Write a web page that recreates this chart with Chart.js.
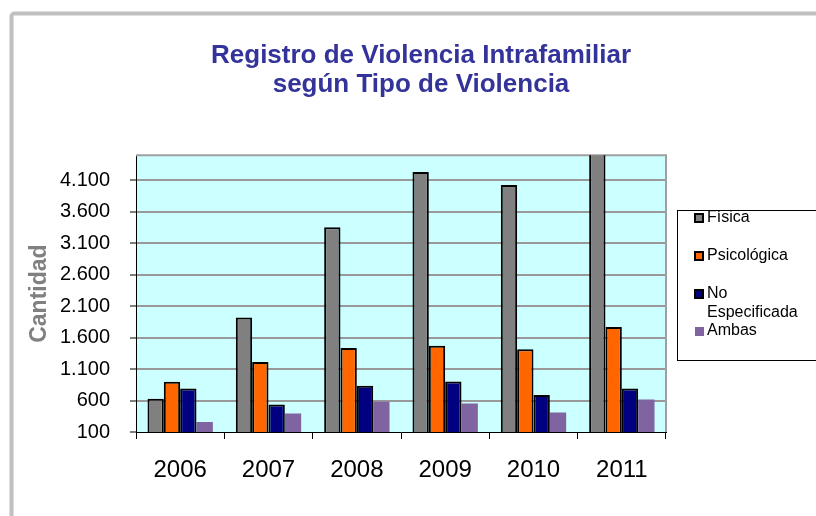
<!DOCTYPE html>
<html>
<head>
<meta charset="utf-8">
<script src="https://cdn.jsdelivr.net/npm/chart.js@4.4.1/dist/chart.umd.min.js"></script>
<style>
  html, body { margin: 0; padding: 0; background: #fff; }
  #wrap { width: 816px; height: 516px; }
</style>
</head>
<body>
<div id="wrap"><canvas id="myChart" width="816" height="516"></canvas></div>
<script>
// DATA
const years= ['2006', '2007', '2008', '2009', '2010', '2011'];
const fisica= [627, 1919, 3356, 4234, 4026, 4900];
const psicologica= [898, 1212, 1436, 1473, 1415, 1771];
const noEspecificada= [792, 537, 834, 904, 690, 792];
const ambas= [260, 394, 579, 553, 410, 617];
const yTickValues= [100, 600, 1100, 1600, 2100, 2600, 3100, 3600, 4100];
const titleLines= ['Registro de Violencia Intrafamiliar', 'según Tipo de Violencia'];

// number as 4.100
const formatThousands= (v) => String(v).replace(/\B(?=(\d{3})+(?!\d))/g, '.');

Chart.defaults.font.family= "'Liberation Sans', Arial, sans-serif";
Chart.defaults.color= '#000';

// frame, plot background and plot border
const backgroundPlugin= {
    id: 'backgroundPlugin',
    beforeDraw(chart){
        const {ctx, chartArea: a}= chart;
        ctx.save();
        ctx.fillStyle= '#fff';
        ctx.fillRect(0, 0, chart.width, chart.height);
        // outer grey frame (runs off the right and bottom)
        ctx.strokeStyle= '#c0c0c0';
        ctx.lineWidth= 4;
        ctx.beginPath();
        ctx.roundRect(11.5, 13.5, 900, 600, 3);
        ctx.stroke();
        // plot area
        ctx.fillStyle= '#ccffff';
        ctx.fillRect(a.left, a.top, a.right - a.left, a.bottom - a.top);
        ctx.restore();
    },
    beforeDatasetsDraw(chart){
        const {ctx, chartArea: a}= chart;
        ctx.save();
        ctx.strokeStyle= '#a0a0a0';
        ctx.lineWidth= 2;
        ctx.beginPath();
        ctx.moveTo(a.left, a.top);
        ctx.lineTo(a.right, a.top);
        ctx.lineTo(a.right, a.bottom);
        ctx.stroke();
        ctx.restore();
    }
};

// legend box on the right, built from the datasets
const boxLegendPlugin= {
    id: 'boxLegendPlugin',
    afterDraw(chart){
        const ctx= chart.ctx;
        const rowY= [218, 256, 294, 331];
        ctx.save();
        ctx.fillStyle= '#fff';
        ctx.fillRect(677, 210, 200, 150);
        ctx.strokeStyle= '#000';
        ctx.lineWidth= 1;
        ctx.strokeRect(677.5, 210.5, 200, 150);
        ctx.font= "16px 'Liberation Sans', Arial, sans-serif";
        ctx.textBaseline= 'middle';
        chart.data.datasets.forEach((ds, i) => {
            const cy= rowY[i];
            if(ds.borderWidth > 0){
                ctx.fillStyle= '#000';
                ctx.fillRect(694, cy - 5, 10, 10);
                ctx.fillStyle= ds.backgroundColor;
                ctx.fillRect(696, cy - 3, 6, 6);
            } else {
                ctx.fillStyle= ds.backgroundColor;
                ctx.fillRect(695, cy - 4, 9, 9);
            }
            // wrap long labels word by word
            const words= ds.label.split(' ');
            const lines= [];
            let line= '';
            words.forEach(w => {
                const test= line ? line + ' ' + w : w;
                if(line && ctx.measureText(test).width > 105){
                    lines.push(line);
                    line= w;
                } else line= test;
            });
            lines.push(line);
            ctx.fillStyle= '#000';
            lines.forEach((l, k) => ctx.fillText(l, 707, cy + k * 19));
        });
        ctx.restore();
    }
};

const canvasElement= document.getElementById('myChart');
new Chart(canvasElement, {
    type: 'bar',
    data: {
        labels: years,
        datasets: [
            { label: 'Física', data: fisica, backgroundColor: '#808080', borderColor: '#000', borderWidth: 2 },
            { label: 'Psicológica', data: psicologica, backgroundColor: '#ff6600', borderColor: '#000', borderWidth: 2 },
            { label: 'No Especificada', data: noEspecificada, backgroundColor: '#000080', borderColor: '#000', borderWidth: 2 },
            { label: 'Ambas', data: ambas, backgroundColor: '#8064a2', borderWidth: 0 },
        ],
    },
    options: {
        responsive: false,
        animation: false,
        layout: { padding: { left: 26, top: 20, right: 0, bottom: 0 } },
        datasets: { bar: { categoryPercentage: 0.74, barPercentage: 1 } },
        scales: {
            x: {
                offset: true,
                grid: { offset: true, drawOnChartArea: false, tickLength: 7, tickColor: '#000', tickWidth: 1 },
                border: { color: '#000', width: 1 },
                ticks: { font: { size: 24 }, color: '#000', padding: 17, maxRotation: 0 },
                afterFit(scale){ scale.height= 84; },
            },
            y: {
                min: 100,
                max: 4500,
                afterBuildTicks(scale){ scale.ticks= yTickValues.map(v => ({ value: v })); },
                grid: {
                    color: (c) => (c.tick && c.tick.value === 100) ? 'rgba(0,0,0,0)' : '#999999',
                    lineWidth: 2,
                    tickColor: '#000',
                    tickWidth: 1,
                    tickLength: 6,
                },
                border: { color: '#000', width: 1 },
                ticks: { font: { size: 20 }, color: '#000', padding: 20, callback: (v) => formatThousands(v) },
                title: {
                    display: true,
                    text: 'Cantidad',
                    color: '#808080',
                    font: { size: 23, weight: 'bold' },
                    padding: { top: 0, bottom: 0 },
                },
                afterFit(scale){ scale.width= 110; },
            },
            // empty space on the right for the legend box
            pad: {
                type: 'linear',
                position: 'right',
                display: true,
                grid: { display: false },
                border: { display: false },
                ticks: { display: false },
                afterFit(scale){ scale.width= 150; },
            },
        },
        plugins: {
            legend: { display: false },
            tooltip: { enabled: false },
            title: {
                display: true,
                text: titleLines,
                color: '#333399',
                font: { size: 26, weight: 'bold', lineHeight: 1.12 },
                padding: { top: 21, bottom: 56 },
            },
        },
    },
    plugins: [backgroundPlugin, boxLegendPlugin],
});
</script>
</body>
</html>
